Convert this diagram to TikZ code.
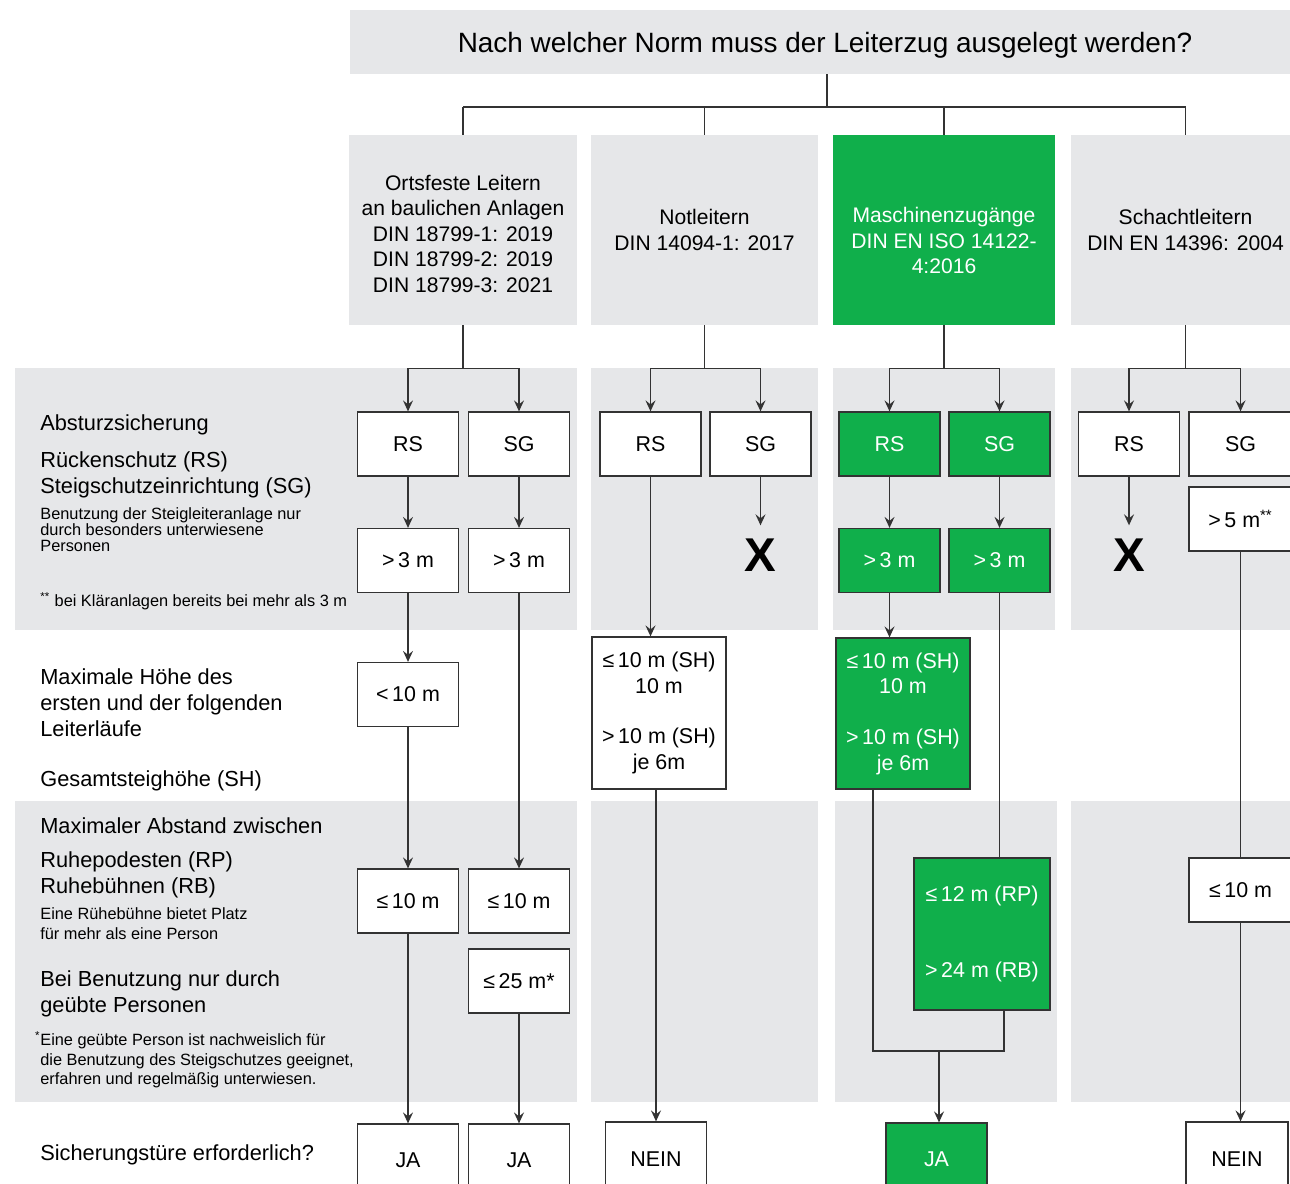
\documentclass[tikz,border=0pt]{standalone}
\usepackage{fontspec}
\setmainfont{Liberation Sans}
\usetikzlibrary{arrows.meta}
\definecolor{band}{HTML}{E6E7E9}
\definecolor{leitgreen}{HTML}{10AF4B}
\definecolor{edge}{HTML}{333333}
\tikzset{
	box/.style={draw=edge, fill=white, line width=0.7pt, inner sep=0pt, align=center,
		minimum width=2.02cm, minimum height=1.28cm, font=\fontsize{12.2}{14.7}\selectfont},
	gbox/.style={box, fill=leitgreen, text=white},
	normbox/.style={fill=band, inner sep=0pt, align=center, minimum width=4.56cm,
		minimum height=3.8cm, font=\fontsize{12}{14.5}\selectfont},
	link/.style={draw=edge, line width=0.85pt},
	arr/.style={link, -{Stealth[length=2.2mm, width=2mm, inset=0.8mm]}},
	lbl/.style={anchor=north west, inner sep=0pt, align=left, font=\fontsize{12.4}{14.8}\selectfont},
	note/.style={lbl, font=\fontsize{9.3}{9.1}\selectfont},
	cross/.style={inner sep=0.26cm, font=\fontsize{27}{27}\selectfont\bfseries}
}

\begin{document}
\begin{tikzpicture}[x=0.02cm, y=-0.02cm]
	\useasboundingbox (0,0) rectangle (1290,1183);
	% grey bands
	\foreach \xa/\xb in {15/577,591/818,833/1055,1071/1300}
		\fill[band] (\xa,368) rectangle (\xb,630);
	\foreach \xa/\xb in {15/577,591/818,835/1057,1071/1300}
		\fill[band] (\xa,801) rectangle (\xb,1102);

	\node[fill=band, minimum width=19cm, minimum height=1.28cm, text depth=0pt, font=\fontsize{15.9}{18}\selectfont] (title) at (825,42) {Nach welcher Norm muss der Leiterzug ausgelegt werden?};

	% standards
	\node[normbox, text height=71pt] (ortsfest) at (463,230) {Ortsfeste Leitern\\an baulichen Anlagen\\DIN 18799-1: 2019\\DIN 18799-2: 2019\\DIN 18799-3: 2021};
	\node[normbox, minimum width=4.54cm] (notleiter) at (704.5,230) {Notleitern\\DIN 14094-1: 2017};
	\node[normbox, fill=leitgreen, text=white, minimum width=4.44cm, text height=50pt] (maschine) at (944,230) {Maschinenzugänge\\DIN EN ISO 14122-\\4:2016};
	\node[normbox, minimum width=4.58cm] (schacht) at (1185.5,230) {Schachtleitern\\DIN EN 14396: 2004};

	% left labels
	\node[lbl] (absturz) at (40,414) {Absturzsicherung};
	\node[lbl] (schutzart) at (40,451) {Rückenschutz (RS)\\Steigschutzeinrichtung (SG)};
	\node[note] (benutzung) at (40,507) {Benutzung der Steigleiteranlage nur\\durch besonders unterwiesene\\Personen};
	\node[note] (klaer) at (40,592) {\textsuperscript{**} bei Kläranlagen bereits bei mehr als 3 m};
	\node[lbl] (hoehe) at (40,668) {Maximale Höhe des\\ersten und der folgenden\\Leiterläufe};
	\node[lbl] (gesamt) at (40,770) {Gesamtsteighöhe (SH)};
	\node[lbl] (abstand) at (40,817) {Maximaler Abstand zwischen};
	\node[lbl] (ruhe) at (40,851) {Ruhepodesten (RP)\\Ruhebühnen (RB)};
	\node[note, font=\fontsize{9.3}{11.3}\selectfont] (platz) at (40,907) {Eine Rühebühne bietet Platz\\für mehr als eine Person};
	\node[lbl] (geuebt) at (40,970) {Bei Benutzung nur durch\\geübte Personen};
	\node[note, font=\fontsize{9.3}{11}\selectfont] (geeignet) at (40,1031) {\llap{\textsuperscript{*}}Eine geübte Person ist nachweislich für\\die Benutzung des Steigschutzes geeignet,\\erfahren und regelmäßig unterwiesen.};
	\node[lbl] (tuere) at (40,1144) {Sicherungstüre erforderlich?};

	% Ortsfeste Leitern
	\node[box] (rs1) at (408,444) {RS};
	\node[box] (sg1) at (519,444) {SG};
	\node[box] (gt1a) at (408,560.5) {>\,3 m};
	\node[box] (gt1b) at (519,560.5) {>\,3 m};
	\node[box] (lt1) at (408,694.5) {<\,10 m};
	\node[box] (le1a) at (408,901) {≤\,10 m};
	\node[box] (le1b) at (519,901) {≤\,10 m};
	\node[box] (le1c) at (519,981) {≤\,25 m*};
	\node[box, minimum height=1.44cm] (ja1) at (408,1160) {JA};
	\node[box, minimum height=1.44cm] (ja2) at (519,1160) {JA};

	% Notleitern
	\node[box] (rs2) at (650.5,444) {RS};
	\node[box] (sg2) at (760.5,444) {SG};
	\node[cross] (x2) at (760.5,555) {X};
	\node[box, minimum width=2.68cm, minimum height=3.04cm] (sh2) at (659,713) {≤\,10 m (SH)\\10 m\\[14pt]>\,10 m (SH)\\je 6m};
	\node[box, minimum height=1.48cm] (nein2) at (656,1159) {NEIN};

	% Maschinenzugaenge
	\node[gbox] (rs3) at (889.5,444) {RS};
	\node[gbox] (sg3) at (999.5,444) {SG};
	\node[gbox] (gt3a) at (889.5,560.5) {>\,3 m};
	\node[gbox] (gt3b) at (999.5,560.5) {>\,3 m};
	\node[gbox, minimum width=2.68cm, minimum height=3.02cm] (sh3) at (903,713.5) {≤\,10 m (SH)\\10 m\\[14pt]>\,10 m (SH)\\je 6m};
	\node[gbox, minimum width=2.72cm, minimum height=3.04cm] (rp3) at (982,934) {≤\,12 m (RP)\\[29pt]>\,24 m (RB)};
	\node[gbox, minimum height=1.44cm] (ja3) at (936.5,1159) {JA};
	\coordinate (merge) at (939,1051);

	% Schachtleitern
	\node[box] (rs4) at (1129,444) {RS};
	\node[box, minimum width=2.06cm] (sg4) at (1240.5,444) {SG};
	\node[cross] (x4) at (1129,555) {X};
	\node[box, minimum width=2.06cm] (gt4) at (1240.5,519) {>\,5 m\textsuperscript{**}};
	\node[box, minimum width=2.06cm] (le4) at (1240.5,890) {≤\,10 m};
	\node[box, minimum width=2.04cm, minimum height=1.48cm] (nein4) at (1237,1159) {NEIN};

	% tree from the question
	\coordinate (split) at (827,107);
	\draw[link] (title.south -| split) -- (split);
	\draw[link] (ortsfest.north |- split) -- (schacht.north |- split);
	\foreach \n in {ortsfest,notleiter,maschine,schacht}
		\draw[link] (\n.north |- split) -- (\n.north);
	\foreach \n/\r/\s in {ortsfest/rs1/sg1,notleiter/rs2/sg2,maschine/rs3/sg3,schacht/rs4/sg4} {
		\draw[link] (\n.south) -- ++(0,43) coordinate (fork);
		\draw[arr] (fork) -| (\r.north);
		\draw[arr] (fork) -| (\s.north);
	}

	% column 1
	\draw[arr] (rs1.south) -- (gt1a.north);
	\draw[arr] (sg1.south) -- (gt1b.north);
	\draw[arr] (gt1a.south) -- (lt1.north);
	\draw[arr] (lt1.south) -- (le1a.north);
	\draw[arr] (le1a.south) -- (ja1.north);
	\draw[arr] (gt1b.south) -- (le1b.north);
	\draw[arr] (le1c.south) -- (ja2.north);

	% column 2
	\draw[arr] (sg2.south) -- (x2.north);
	\draw[arr] (rs2.south) -- (rs2.south |- sh2.north);
	\draw[arr] (sh2.south -| nein2.north) -- (nein2.north);

	% column 3
	\draw[arr] (rs3.south) -- (gt3a.north);
	\draw[arr] (sg3.south) -- (gt3b.north);
	\draw[arr] (gt3a.south) -- (gt3a.south |- sh3.north);
	\draw[link] (gt3b.south) -- (gt3b.south |- rp3.north);
	\draw[link] ([xshift=-0.6cm]sh3.south) |- (merge) -| ([xshift=0.44cm]rp3.south);
	\draw[arr] (merge) -- (merge |- ja3.north);

	% column 4
	\draw[arr] (rs4.south) -- (x4.north);
	\draw[link] (gt4.south) -- (le4.north);
	\draw[arr] (le4.south) -- (le4.south |- nein4.north);
\end{tikzpicture}
\end{document}
